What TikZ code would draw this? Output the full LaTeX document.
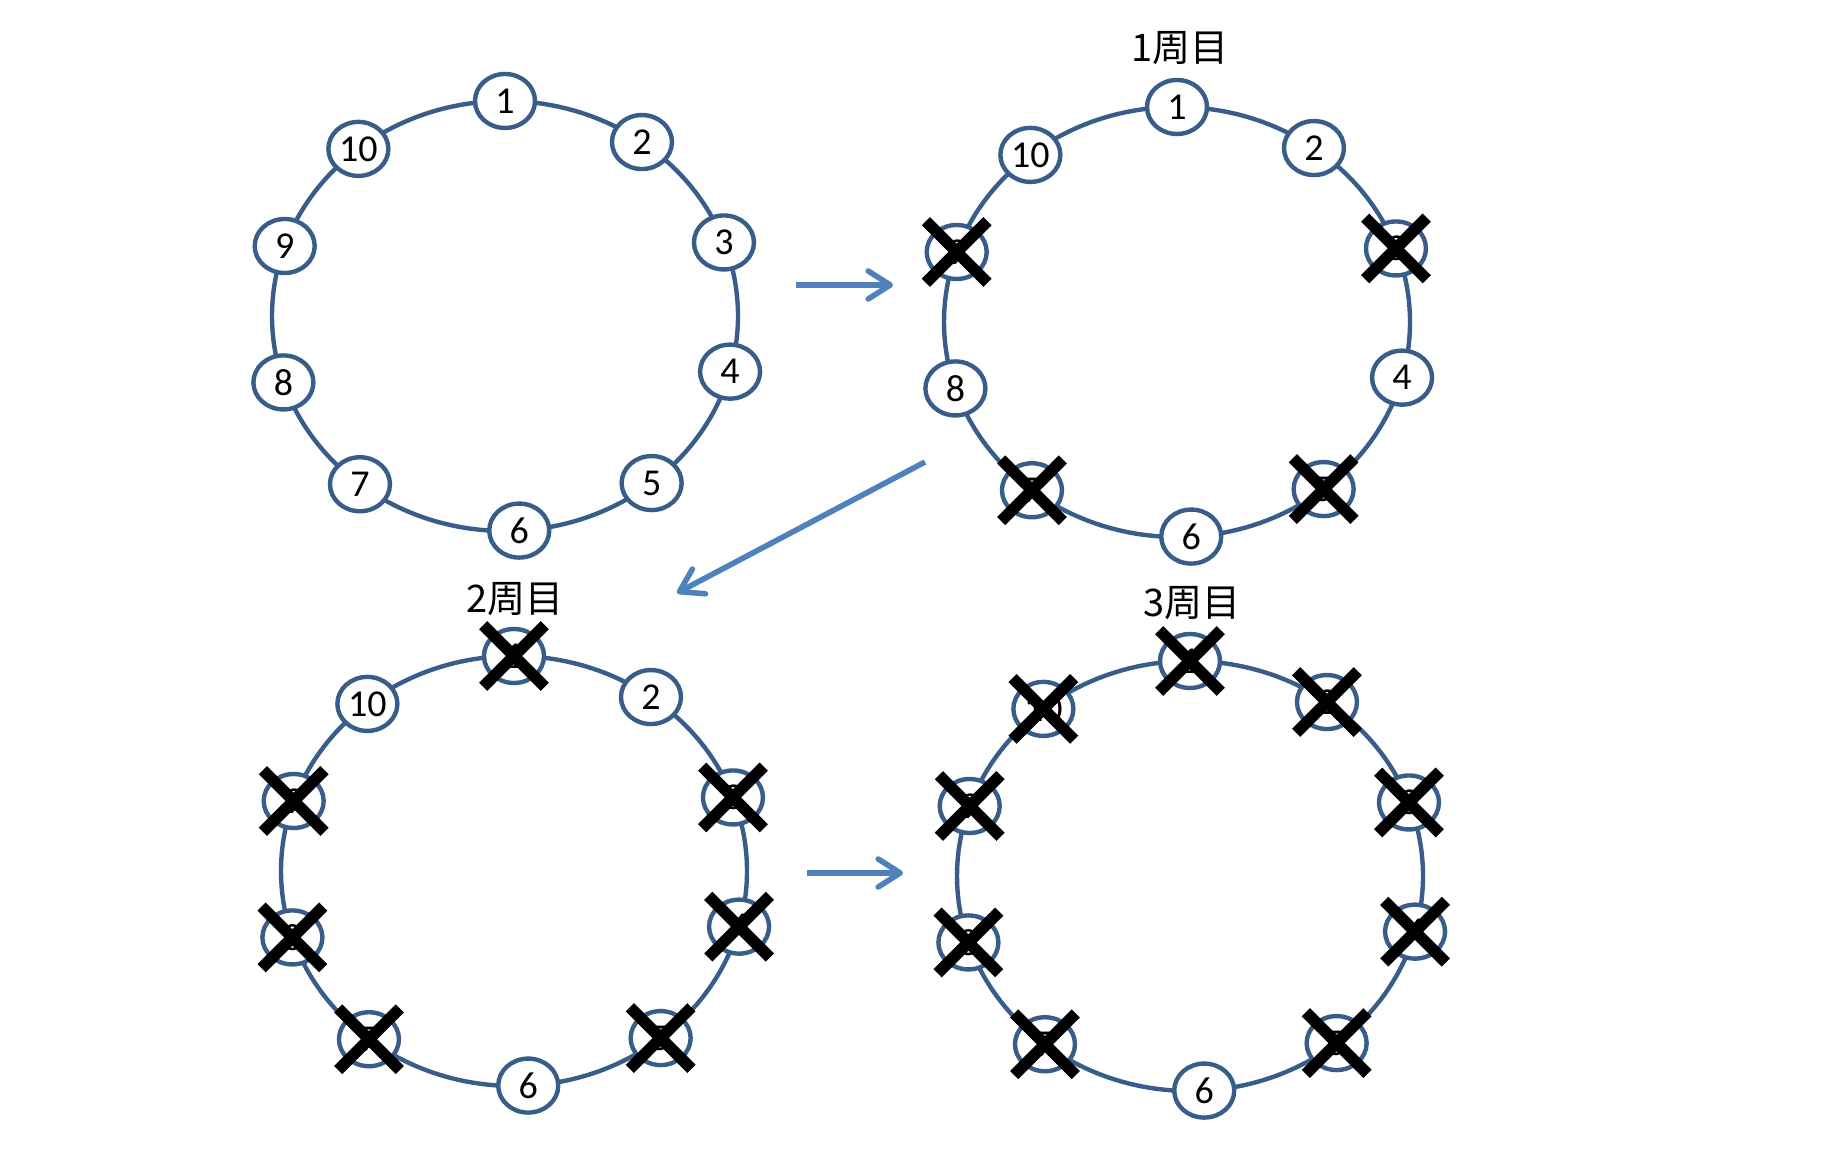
\documentclass[tikz,border=0pt]{standalone}
\usepackage{fontspec}
\setmainfont{Carlito}
\newfontfamily\jpfont{Noto Sans CJK JP}
\usetikzlibrary{shapes.geometric,shapes.misc,arrows.meta}
\definecolor{ringBlue}{HTML}{385D8A}
\definecolor{arrowBlue}{HTML}{4F81BD}

\begin{document}
\begin{tikzpicture}[x=0.5pt, y=0.5pt,
    every node/.style={font=\fontsize{19}{21}\selectfont},
    num/.style={ellipse, draw=ringBlue, line width=2.2pt, fill=white, minimum width=30pt, minimum height=27pt, inner sep=0pt},
    ring/.style={draw=ringBlue, line width=2.2pt},
    xmark/.style={cross out, draw=black, line width=5.8pt, minimum size=25pt, inner sep=0pt},
    roundtitle/.style={font=\jpfont\fontsize{19}{22}\selectfont},
    flow/.style={draw=arrowBlue, line width=2.8pt, -{Straight Barb[length=11pt, width=14pt, line cap=round, line join=round]}}]
    \useasboundingbox (0,0) rectangle (1841,1150);
    % four rings of ten people
    \foreach \rd/\cx/\cy in {a/505/834, b/1177/828, c/514/279, d/1190/274} {
        \begin{scope}[shift={(\cx,\cy)}]
            \draw[ring] (0,0) ellipse (233 and 215);
            \foreach \i/\ang in {1/90, 2/54, 3/20, 4/-15, 5/-51, 6/-86.5, 7/-128.5, 8/-162, 9/161, 10/129}
                \node[num] (\rd\i) at (\ang:233 and 215) {\i};
        \end{scope}
    }
    \foreach \n in {b3,b5,b7,b9,c1,c3,c4,c5,c7,c8,c9,d1,d2,d3,d4,d5,d7,d8,d9,d10}
        \node[xmark] (x\n) at (\n) {};
    \node[roundtitle] (t1) at (1180,1102) {1周目};
    \node[roundtitle] (t2) at (515,551) {2周目};
    \node[roundtitle] (t3) at (1192,547) {3周目};
    \coordinate (s1) at (796,865);
    \coordinate (e1) at (893,865);
    \coordinate (s2) at (925,688);
    \coordinate (e2) at (677,557);
    \coordinate (s3) at (807,277);
    \coordinate (e3) at (903,277);
    \draw[flow] (s1) -- (e1);
    \draw[flow] (s2) -- (e2);
    \draw[flow] (s3) -- (e3);
\end{tikzpicture}
\end{document}
